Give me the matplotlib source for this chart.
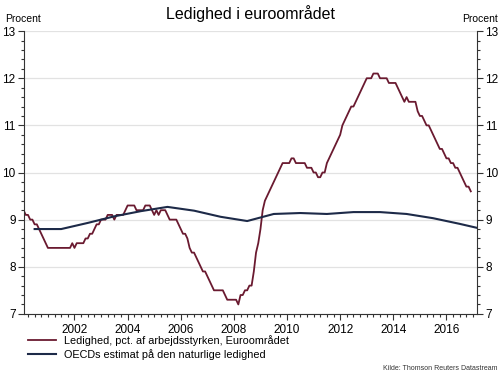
import numpy as np
import matplotlib
matplotlib.use("Agg")
import matplotlib.pyplot as plt
from matplotlib.ticker import MultipleLocator, FixedLocator

plt.rcParams['font.family'] = ['Liberation Sans', 'DejaVu Sans']

# monthly unemployment, euro area (Feb 2000 - Dec 2016)
start_year = 2000
start_month = 2
ledighed = [
    9.2, 9.1, 9.1, 9.0, 9.0, 8.9, 8.9, 8.8, 8.7, 8.6, 8.5,                # 2000
    8.4, 8.4, 8.4, 8.4, 8.4, 8.4, 8.4, 8.4, 8.4, 8.4, 8.4, 8.5,           # 2001
    8.4, 8.5, 8.5, 8.5, 8.5, 8.6, 8.6, 8.7, 8.7, 8.8, 8.9, 8.9,           # 2002
    9.0, 9.0, 9.0, 9.1, 9.1, 9.1, 9.0, 9.1, 9.1, 9.1, 9.1, 9.2,           # 2003
    9.3, 9.3, 9.3, 9.3, 9.2, 9.2, 9.2, 9.2, 9.3, 9.3, 9.3, 9.2,           # 2004
    9.1, 9.2, 9.1, 9.2, 9.2, 9.2, 9.1, 9.0, 9.0, 9.0, 9.0, 8.9,           # 2005
    8.8, 8.7, 8.7, 8.6, 8.4, 8.3, 8.3, 8.2, 8.1, 8.0, 7.9, 7.9,           # 2006
    7.8, 7.7, 7.6, 7.5, 7.5, 7.5, 7.5, 7.5, 7.4, 7.3, 7.3, 7.3,           # 2007
    7.3, 7.3, 7.2, 7.4, 7.4, 7.5, 7.5, 7.6, 7.6, 7.9, 8.3, 8.5,           # 2008
    8.8, 9.2, 9.4, 9.5, 9.6, 9.7, 9.8, 9.9, 10.0, 10.1, 10.2, 10.2,       # 2009
    10.2, 10.2, 10.3, 10.3, 10.2, 10.2, 10.2, 10.2, 10.2, 10.1, 10.1, 10.1,  # 2010
    10.0, 10.0, 9.9, 9.9, 10.0, 10.0, 10.2, 10.3, 10.4, 10.5, 10.6, 10.7,    # 2011
    10.8, 11.0, 11.1, 11.2, 11.3, 11.4, 11.4, 11.5, 11.6, 11.7, 11.8, 11.9,  # 2012
    12.0, 12.0, 12.0, 12.1, 12.1, 12.1, 12.0, 12.0, 12.0, 12.0, 11.9, 11.9,  # 2013
    11.9, 11.9, 11.8, 11.7, 11.6, 11.5, 11.6, 11.5, 11.5, 11.5, 11.5, 11.3,  # 2014
    11.2, 11.2, 11.1, 11.0, 11.0, 10.9, 10.8, 10.7, 10.6, 10.5, 10.5, 10.4,  # 2015
    10.3, 10.3, 10.2, 10.2, 10.1, 10.1, 10.0, 9.9, 9.8, 9.7, 9.7, 9.6,       # 2016
]

# OECD estimate of natural unemployment (annual, plotted mid-year)
oecd_years = [2000, 2001, 2002, 2003, 2004, 2005, 2006, 2007, 2008,
              2009, 2010, 2011, 2012, 2013, 2014, 2015, 2016, 2017]
oecd_nairu = [8.8, 8.8, 8.93, 9.07, 9.18, 9.27, 9.19, 9.06, 8.97,
              9.12, 9.14, 9.12, 9.16, 9.16, 9.12, 9.03, 8.91, 8.78]

year_labels = [2002, 2004, 2006, 2008, 2010, 2012, 2014, 2016]

red = '#6a1a30'
blue = '#1d2a48'

t = start_year + (start_month - 1 + np.arange(len(ledighed))) / 12.0
t_oecd = np.array(oecd_years) + 0.5

fig = plt.figure(figsize=(5, 3.75), dpi=100)
ax = fig.add_axes([0.048, 0.163, 0.906, 0.754])

ax.plot(t, ledighed, color=red, lw=1.3, label='Ledighed, pct. af arbejdsstyrken, Euroområdet')
ax.plot(t_oecd, oecd_nairu, color=blue, lw=1.5, label='OECDs estimat på den naturlige ledighed')

ax.set_xlim(2000.1, 2017.15)
ax.set_ylim(7, 13)

ax.yaxis.set_major_locator(MultipleLocator(1))
ax.yaxis.set_minor_locator(MultipleLocator(0.2))
ax.grid(axis='y', which='major', color='#e2e2e2', lw=0.9)
ax.set_axisbelow(True)

ax.xaxis.set_major_locator(FixedLocator(year_labels))
ax.xaxis.set_minor_locator(MultipleLocator(0.25))
ax.set_xticklabels([str(y) for y in year_labels])

ax.tick_params(axis='y', which='both', left=True, right=True, labelleft=True,
               labelright=True, direction='out', colors='#333333', labelsize=8.5,
               labelcolor='black', pad=2)
ax.tick_params(axis='y', which='major', length=4, width=0.8)
ax.tick_params(axis='y', which='minor', length=2, width=0.8)
ax.tick_params(axis='x', which='major', length=4, width=0.8, colors='#333333',
               labelcolor='black', labelsize=8.5, pad=3)
ax.tick_params(axis='x', which='minor', length=2, width=0.8, colors='#333333')

ax.spines['top'].set_visible(False)
for s in ['left', 'right', 'bottom']:
    ax.spines[s].set_color('#333333')
    ax.spines[s].set_linewidth(0.8)

fig.text(0.5, 1 - 14 / 375, 'Ledighed i euroområdet', ha='center', va='center', fontsize=11.5)
fig.text(0.01, 1 - 19 / 375, 'Procent', ha='left', va='center', fontsize=7.5)
fig.text(0.995, 1 - 19 / 375, 'Procent', ha='right', va='center', fontsize=7.5)

fig.legend(loc='upper left', bbox_to_anchor=(0.056, 1 - 335 / 375), frameon=False,
           fontsize=7.8, handlelength=2.6, handletextpad=0.7, labelspacing=0.3,
           borderpad=0, borderaxespad=0)

fig.text(0.995, 1 - 369 / 375, 'Kilde: Thomson Reuters Datastream', ha='right',
         va='center', fontsize=5, color='#333333')

fig.savefig('out.png', dpi=100)
